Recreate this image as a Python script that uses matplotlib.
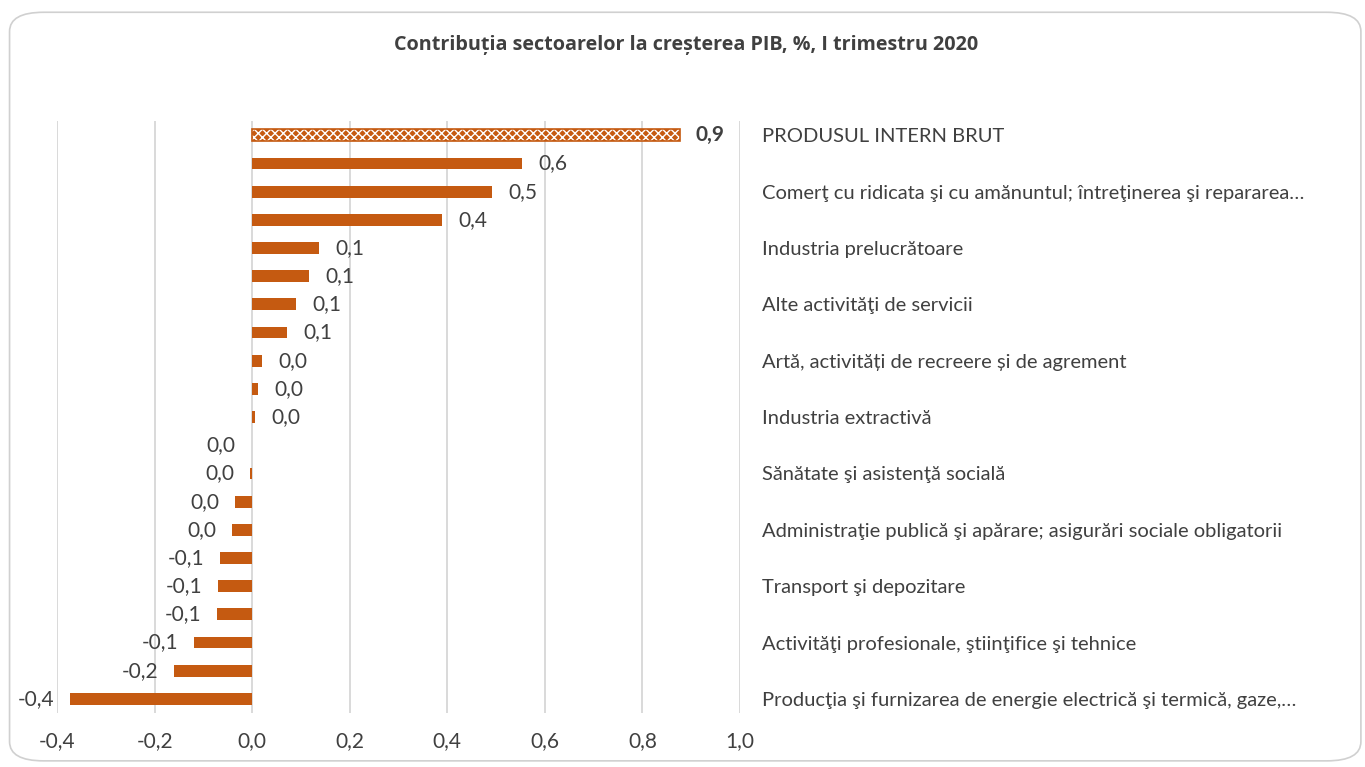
import matplotlib.pyplot as plt
from matplotlib.patches import FancyBboxPatch

plt.rcParams['font.family'] = ['Lato', 'DejaVu Sans']

# categories top -> bottom (Excel shows only every second label)
categories = [
    "PRODUSUL INTERN BRUT", "",
    "Comerţ cu ridicata şi cu amănuntul; întreţinerea şi repararea…", "",
    "Industria prelucrătoare", "",
    "Alte activităţi de servicii", "",
    "Artă, activități de recreere și de agrement", "",
    "Industria extractivă", "",
    "Sănătate şi asistenţă socială", "",
    "Administraţie publică şi apărare; asigurări sociale obligatorii", "",
    "Transport şi depozitare", "",
    "Activităţi profesionale, ştiinţifice şi tehnice", "",
    "Producţia şi furnizarea de energie electrică şi termică, gaze,…",
]
values = [0.877, 0.553, 0.492, 0.389, 0.137, 0.117, 0.090, 0.072, 0.020, 0.012,
          0.006, -0.001, -0.004, -0.035, -0.041, -0.066, -0.070, -0.072,
          -0.119, -0.160, -0.373]
xticks = [-0.4, -0.2, 0.0, 0.2, 0.4, 0.6, 0.8, 1.0]

bar_color = '#C55A11'
text_color = '#404040'

fig = plt.figure(figsize=(13.65, 7.67), dpi=100)

# rounded chart frame
frame = FancyBboxPatch((0.007, 0.008), 0.99, 0.976, boxstyle="round,pad=0,rounding_size=0.025",
                       transform=fig.transFigure, facecolor='none', edgecolor='#D0D0D0',
                       linewidth=1.2, zorder=-1)
fig.patches.append(frame)

ax = fig.add_axes([0.0418, 0.0704, 0.5003, 0.7716])
ax.set_facecolor('none')

ypos = list(range(len(values)))
for i, (y, v) in enumerate(zip(ypos, values)):
    if i == 0:
        ax.barh(y, v, height=0.42, color=bar_color, edgecolor='white', hatch='xxxx',
                linewidth=0, zorder=3)
        ax.barh(y, v, height=0.42, fill=False, edgecolor=bar_color, linewidth=1.2, zorder=4)
    else:
        ax.barh(y, v, height=0.42, color=bar_color, zorder=3)
    lab = f"{abs(v):.1f}".replace('.', ',')
    if round(v, 1) < 0:
        lab = '-' + lab
    if v >= 0:
        ax.annotate(lab, (v, y), xytext=(11.5, 0), textcoords='offset points',
                    ha='left', va='center', fontsize=15, color=text_color,
                    fontweight='bold' if i == 0 else 'normal')
    else:
        ax.annotate(lab, (v, y), xytext=(-11.5, 0), textcoords='offset points',
                    ha='right', va='center', fontsize=15, color=text_color)

ax.set_xlim(-0.4, 1.0)
ax.set_ylim(len(values) - 0.5, -0.5)
ax.set_xticks(xticks)
ax.set_xticklabels([f"{t:.1f}".replace('.', ',') for t in xticks], fontsize=15, color=text_color)
ax.tick_params(axis='x', length=0, pad=13)

ax.yaxis.tick_right()
ax.set_yticks(ypos)
ax.set_yticklabels(categories, fontsize=14.5, color=text_color)
ax.tick_params(axis='y', length=0, pad=16)

ax.grid(axis='x', color='#D9D9D9', linewidth=1.4, zorder=0)
ax.set_axisbelow(True)
for s in ax.spines.values():
    s.set_visible(False)

fig.text(0.503, 0.941, "Contribuția sectoarelor la creșterea PIB, %, I trimestru 2020",
         ha='center', va='center', fontsize=14.2, fontweight='bold', color=text_color,
         family=['Open Sans', 'DejaVu Sans'])

fig.savefig('out.png', dpi=100)
